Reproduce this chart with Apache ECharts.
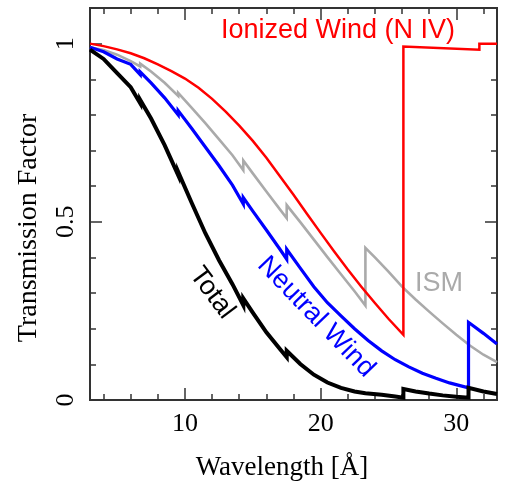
<!DOCTYPE html>
<html><head><meta charset="utf-8">
<script src="https://cdn.jsdelivr.net/npm/echarts@6/dist/echarts.min.js"></script>
<style>html,body{margin:0;padding:0;background:#fff}#c{width:505px;height:482px}</style>
</head><body><div id="c"></div>
<script>
// ---- tick labels ----
const xMajorLabels = [10, 20, 30];
const yMajorValues = [0, 0.5, 1];
const yMajorLabels = ['0', '0.5', '1'];

// ---- series values: [wavelength (Å), transmission] ----
const ismData = [
  [3,0.99],[4,0.982],[5,0.969],[6,0.951],[6.7,0.936],[6.7,0.944],[7.5,0.922],[8.5,0.89],
  [9.5,0.853],[9.5,0.862],[10.5,0.82],[11.5,0.777],[12.5,0.732],[13.5,0.687],[14.3,0.645],
  [14.3,0.672],[15,0.636],[16,0.585],[17,0.535],[17.5,0.51],[17.5,0.547],[18.5,0.499],
  [19.5,0.45],[20.5,0.401],[21.5,0.353],[22.5,0.305],[23.3,0.265],[23.3,0.427],[24,0.4],
  [25,0.36],[26,0.318],[27,0.282],[28,0.248],[29,0.215],[30,0.183],[31,0.153],[32,0.127],[33,0.106]
];
const ionizedData = [
  [3,1.0],[4,0.993],[5,0.984],[6,0.973],[7,0.959],[8,0.942],[9,0.923],[10,0.902],[11,0.876],
  [12,0.845],[13,0.809],[14,0.77],[15,0.727],[16,0.68],[17,0.628],[18,0.576],[19,0.522],
  [20,0.469],[21,0.417],[22,0.366],[23,0.318],[24,0.272],[25,0.228],[26.1,0.183],[26.1,0.992],
  [31.7,0.983],[31.7,1.0],[33,1.0]
];
const neutralData = [
  [3,0.99],[4,0.977],[5,0.957],[5,0.962],[6,0.942],[6.7,0.913],[6.7,0.921],[7.5,0.89],
  [8.5,0.848],[9.5,0.8],[9.5,0.812],[10.5,0.762],[11.5,0.71],[12.5,0.658],[13.5,0.603],
  [14.3,0.55],[14.3,0.568],[15,0.53],[16,0.477],[17,0.423],[17.5,0.395],[17.5,0.423],
  [18.5,0.37],[19.5,0.318],[20.5,0.273],[21.5,0.236],[22.5,0.2],[23.5,0.167],[24.5,0.138],
  [25.5,0.113],[26.5,0.093],[27.5,0.075],[28.5,0.061],[29.5,0.048],[30.9,0.034],[30.9,0.218],
  [32,0.187],[33,0.157]
];
const totalData = [
  [3,0.983],[4,0.957],[5,0.917],[5,0.922],[6,0.878],[6.7,0.833],[6.7,0.842],[7.5,0.79],
  [8.5,0.715],[9.5,0.631],[9.5,0.64],[10.5,0.553],[11.5,0.468],[12.5,0.393],[13.5,0.325],
  [14.3,0.266],[14.3,0.285],[15,0.245],[16,0.19],[17,0.143],[17.5,0.12],[17.5,0.138],
  [18.5,0.101],[19.5,0.071],[20.5,0.049],[21.5,0.034],[22.5,0.024],[23.3,0.019],[23.3,0.024],
  [24.5,0.015],[25.5,0.01],[26.1,0.0065],[26.1,0.031],[27,0.024],[28,0.018],[29,0.013],
  [30,0.009],[30.9,0.0065],[30.9,0.034],[32,0.024],[33,0.017]
];
const annotations = ['Ionized Wind (N IV)', 'ISM', 'Neutral Wind', 'Total'];

const axisColor = '#333';
const serif = 'Liberation Serif';
const sans = 'Liberation Sans';

function xAxis(pos, major) {
  return {
    type: 'value', position: pos, min: 3, max: 33,
    splitNumber: major ? 3 : 15, minInterval: major ? 10 : 2, maxInterval: major ? 10 : 2,
    axisLine: { show: true, onZero: false, lineStyle: { color: axisColor, width: 2 } },
    axisTick: { show: true, inside: true, length: major ? 12 : 6, lineStyle: { color: axisColor, width: 1.5 } },
    splitLine: { show: false },
    axisLabel: {
      show: pos === 'bottom' && major, margin: 11, fontFamily: serif, fontSize: 26, color: '#000',
      formatter: v => xMajorLabels.some(t => Math.abs(t - v) < 1e-6) ? String(Math.round(v)) : ''
    }
  };
}
function yAxis(pos, major) {
  return {
    type: 'value', position: pos, min: 0, max: 1.1, interval: major ? 0.5 : 0.1,
    axisLine: { show: true, onZero: false, lineStyle: { color: axisColor, width: 2 } },
    axisTick: { show: true, inside: true, length: major ? 12 : 6, lineStyle: { color: axisColor, width: 1.5 } },
    splitLine: { show: false },
    axisLabel: {
      show: pos === 'left' && major, rotate: 90, margin: 11, fontFamily: serif, fontSize: 26, color: '#000',
      showMaxLabel: false,
      formatter: v => { const i = yMajorValues.findIndex(t => Math.abs(t - v) < 1e-6); return i >= 0 ? yMajorLabels[i] : ''; }
    }
  };
}
function line(data, color, width) {
  return {
    type: 'line', data: data, xAxisIndex: 0, yAxisIndex: 0, showSymbol: false, symbol: 'none',
    animation: false, clip: true,
    lineStyle: { color: color, width: width, join: 'miter', cap: 'butt' }
  };
}
function txt(text, x, y, color, font, rot) {
  return {
    type: 'text', x: x, y: y, rotation: rot || 0, silent: true,
    style: { text: text, fill: color, font: font, textAlign: 'center', textVerticalAlign: 'middle', align: 'center', verticalAlign: 'middle' }
  };
}

const chart = echarts.init(document.getElementById('c'), null, { renderer: 'canvas' });
chart.setOption({
  animation: false,
  backgroundColor: '#fff',
  grid: { left: 90, right: 8, top: 8, bottom: 82, containLabel: false, outerBoundsMode: 'none' },
  xAxis: [xAxis('bottom', true), xAxis('bottom', false), xAxis('top', true), xAxis('top', false)],
  yAxis: [yAxis('left', true), yAxis('left', false), yAxis('right', true), yAxis('right', false)],
  series: [
    line(ismData, '#aaaaaa', 2.6),
    line(ionizedData, '#ff0000', 2.5),
    line(neutralData, '#0000ff', 3.2),
    line(totalData, '#000000', 4)
  ],
  graphic: [
    txt(annotations[0], 338, 31, '#ff0000', '27px "' + sans + '"'),
    txt(annotations[1], 439, 284, '#aaaaaa', '27px "' + sans + '"'),
    txt(annotations[2], 316, 317, '#0000ff', '27px "' + sans + '"', -46 * Math.PI / 180),
    txt(annotations[3], 212, 293, '#000000', '27px "' + sans + '"', -53 * Math.PI / 180),
    txt('Transmission Factor', 29, 228, '#000', '28px "' + serif + '"', Math.PI / 2),
    txt('Wavelength [Å]', 282, 468, '#000', '27px "' + serif + '"')
  ]
});
</script></body></html>
